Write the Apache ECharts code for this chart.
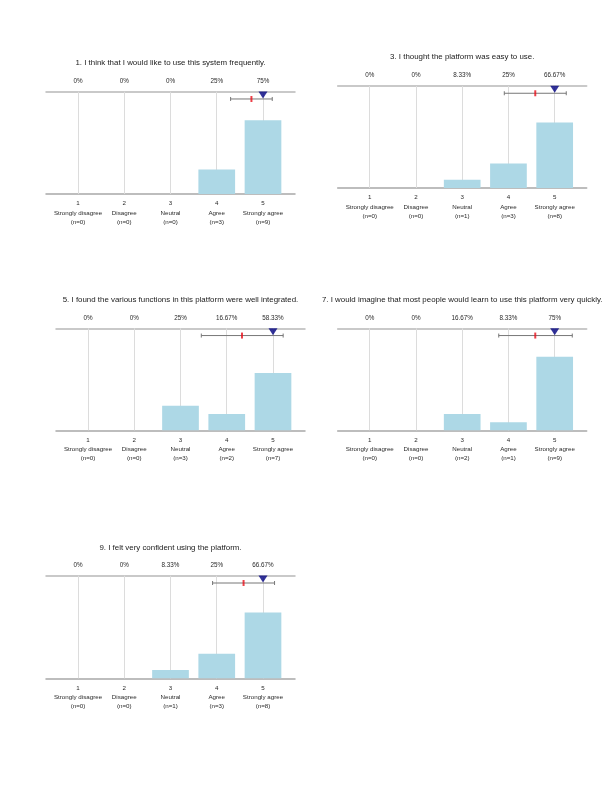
<!DOCTYPE html>
<html>
<head>
<meta charset="utf-8">
<script src="https://cdn.jsdelivr.net/npm/echarts@6/dist/echarts.min.js"></script>
<style>html,body{margin:0;padding:0;background:#fff}#c{width:615px;height:800px}</style>
</head>
<body>
<div id="c"></div>
<script>
// ---- data ----
const titles = [
  '1. I think that I would like to use this system frequently.',
  '3. I thought the platform was easy to use.',
  '5. I found the various functions in this platform were well integrated.',
  '7. I would imagine that most people would learn to use this platform very quickly.',
  '9. I felt very confident using the platform.'
];
const scalePoints = [1, 2, 3, 4, 5];
const scaleNames = ['Strongly disagree', 'Disagree', 'Neutral', 'Agree', 'Strongly agree'];
const counts1 = [0, 0, 0, 3, 9];
const counts3 = [0, 0, 1, 3, 8];
const counts5 = [0, 0, 3, 2, 7];
const counts7 = [0, 0, 2, 1, 9];
const counts9 = [0, 0, 1, 3, 8];
const pct1 = [0, 0, 0, 25, 75];
const pct3 = [0, 0, 8.33, 25, 66.67];
const pct5 = [0, 0, 25, 16.67, 58.33];
const pct7 = [0, 0, 16.67, 8.33, 75];
const pct9 = [0, 0, 8.33, 25, 66.67];
const means = [4.75, 4.58, 4.33, 4.58, 4.58];
const errLow = [4.30, 3.91, 3.45, 3.79, 3.91];
const errHigh = [5.20, 5.25, 5.22, 5.38, 5.25];
const medians = [5, 5, 5, 5, 5];

const countsAll = [counts1, counts3, counts5, counts7, counts9];
const pctAll = [pct1, pct3, pct5, pct7, pct9];

// ---- layout ----
const panels = [
  {left: 46,    top: 91.7,  width: 249, height: 102.3, titleY: 59},
  {left: 337.7, top: 86,    width: 249, height: 102,   titleY: 52.5},
  {left: 56,    top: 328.3, width: 249, height: 102,   titleY: 295.5},
  {left: 337.7, top: 328.3, width: 249, height: 102,   titleY: 295.5},
  {left: 46,    top: 575.7, width: 249, height: 102.6, titleY: 543.5}
];
const XMIN = 0.308, XMAX = 5.692, YMAX = 1.04;
const FONT = '"Liberation Sans", Arial, sans-serif';

const option = {
  animation: false,
  backgroundColor: '#fff',
  title: [], grid: [], xAxis: [], yAxis: [], series: []
};

panels.forEach((p, i) => {
  const pct = pctAll[i];
  const cnt = countsAll[i];
  option.title.push({
    text: titles[i],
    left: p.left + p.width / 2,
    top: p.titleY,
    textAlign: 'center',
    padding: 0,
    textStyle: {fontFamily: FONT, fontSize: 7.9, fontWeight: 'normal', color: '#1a1a1a'}
  });
  option.grid.push({left: p.left, top: p.top, width: p.width, height: p.height, containLabel: false});
  // bottom axis
  option.xAxis.push({
    type: 'value', gridIndex: i, position: 'bottom', min: XMIN, max: XMAX,
    axisLine: {show: true, onZero: false, lineStyle: {color: '#a8a8a8', width: 1.5}},
    axisTick: {show: false},
    splitLine: {show: false},
    axisLabel: {
      customValues: scalePoints,
      margin: 5,
      fontFamily: FONT, fontSize: 6.2, color: '#2a2a2a', lineHeight: 9.3,
      formatter: v => {
        const k = scalePoints.indexOf(Math.round(v));
        return k < 0 ? '' : scalePoints[k] + '\n' + scaleNames[k] + '\n(n=' + cnt[k] + ')';
      }
    }
  });
  // top axis with percentages
  option.xAxis.push({
    type: 'value', gridIndex: i, position: 'top', min: XMIN, max: XMAX,
    axisLine: {show: true, onZero: false, lineStyle: {color: '#b8b8b8', width: 1.5}},
    axisTick: {show: false},
    splitLine: {show: false},
    axisLabel: {
      customValues: scalePoints,
      margin: 7.5,
      fontFamily: FONT, fontSize: 6.3, color: '#2a2a2a',
      formatter: v => {
        const k = scalePoints.indexOf(Math.round(v));
        return k < 0 ? '' : pct[k] + '%';
      }
    }
  });
  option.yAxis.push({
    type: 'value', gridIndex: i, min: 0, max: YMAX, show: false
  });
  const xb = i * 2;
  // vertical guide lines at each scale point (behind bars)
  option.series.push({
    type: 'line', xAxisIndex: xb, yAxisIndex: i, data: [], z: 1,
    markLine: {
      z: 1,
      silent: true, symbol: 'none', label: {show: false},
      lineStyle: {color: '#dcdcdc', width: 1, type: 'solid'},
      data: scalePoints.map(s => ({xAxis: s}))
    }
  });
  option.series.push({
    type: 'bar', xAxisIndex: xb, yAxisIndex: i,
    barWidth: 36.7,
    itemStyle: {color: '#add8e6'},
    data: scalePoints.map((s, k) => [s, pct[k] / 100]),
    z: 3
  });
  // error bar
  option.series.push({
    type: 'custom', xAxisIndex: xb, yAxisIndex: i,
    data: [[errLow[i], errHigh[i], 0.966]],
    renderItem: (params, api) => {
      const a = api.coord([api.value(0), api.value(2)]);
      const b = api.coord([api.value(1), api.value(2)]);
      const st = {stroke: '#777', lineWidth: 1};
      return {type: 'group', children: [
        {type: 'line', shape: {x1: a[0], y1: a[1], x2: b[0], y2: b[1]}, style: st},
        {type: 'line', shape: {x1: a[0], y1: a[1] - 2, x2: a[0], y2: a[1] + 2}, style: st},
        {type: 'line', shape: {x1: b[0], y1: b[1] - 2, x2: b[0], y2: b[1] + 2}, style: st}
      ]};
    },
    z: 5
  });
  // mean marker
  option.series.push({
    type: 'scatter', xAxisIndex: xb, yAxisIndex: i,
    symbol: 'rect', symbolSize: [2, 6],
    itemStyle: {color: '#e8101a'},
    data: [[means[i], 0.966]], z: 6
  });
  // median triangle
  option.series.push({
    type: 'scatter', xAxisIndex: xb, yAxisIndex: i,
    symbol: 'triangle', symbolRotate: 180, symbolSize: [9, 7],
    itemStyle: {color: '#000080'},
    data: [[medians[i], 1.006]], z: 7
  });
});

const chart = echarts.init(document.getElementById('c'), null, {renderer: 'canvas'});
chart.setOption(option);
</script>
</body>
</html>
